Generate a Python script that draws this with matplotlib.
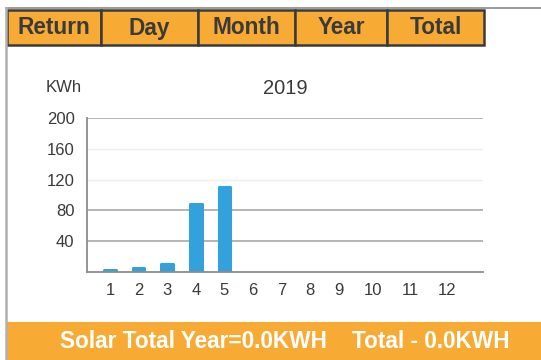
import matplotlib
matplotlib.use("Agg")
import matplotlib.pyplot as plt
from matplotlib.patches import Rectangle

# monthly yield for 2019
months = ["1", "2", "3", "4", "5", "6", "7", "8", "9", "10", "11", "12"]
kwh = [2.5, 5, 10, 88, 110, 0, 0, 0, 0, 0, 0, 0]
y_ticks = [40, 80, 120, 160, 200]
tabs = ["Return", "Day", "Month", "Year", "Total"]
year = "2019"
footer = "Solar Total Year=0.0KWH    Total - 0.0KWH"

# slot positions along the month axis (last three slots sit wider apart)
slots = [1, 2, 3, 4, 5, 6, 7, 8, 9, 10.2, 11.5, 12.8]

ORANGE = "#F8AB34"
DARK = "#3a3a3a"
BLUE = "#33A2DC"

plt.rcParams['font.family'] = ['Liberation Sans', 'DejaVu Sans']

W, H = 541, 360
fig = plt.figure(figsize=(W / 100, H / 100), dpi=100)
fig.patch.set_facecolor("white")

# overlay in pixel units for the frame, tabs and footer
bg = fig.add_axes([0, 0, 1, 1])
bg.set_xlim(0, W)
bg.set_ylim(H, 0)
bg.axis("off")

bg.plot([6, W], [8, 8], color="#8a8a8a", lw=1.2)
bg.plot([6, 6], [8, H], color="#b0b0b0", lw=1.8)

edges = [7, 101, 198, 295, 387, 484]
for i, t in enumerate(tabs):
    x0, x1 = edges[i], edges[i + 1]
    bg.add_patch(Rectangle((x0, 10), x1 - x0, 35, facecolor=ORANGE,
                           edgecolor=DARK, lw=1.8))
    bg.text((x0 + x1) / 2, 28, t, ha="center", va="center",
            fontsize=16.3, fontweight="bold", color=DARK)

bg.add_patch(Rectangle((7, 322), W - 7, H - 322, facecolor=ORANGE,
                       edgecolor="none"))
bg.text(285, 342, footer, ha="center", va="center", fontsize=16.3,
        fontweight="bold", color="white")

bg.text(46, 88, "KWh", ha="left", va="center", fontsize=12, color=DARK)
bg.text(285, 88, year, ha="center", va="center", fontsize=14.5, color=DARK)

# chart
ax = fig.add_axes([87 / W, (H - 272) / H, 396 / W, 154 / H])
ax.set_facecolor("none")
ax.set_xlim(0.196, 14.04)
ax.set_ylim(0, 200)

for v in y_ticks:
    faint = v in (120, 160)
    ax.axhline(v, color="#eeeeee" if faint else "#a8a8a8",
               lw=1.0 if faint else 1.2, zorder=0)

lws = [2.2 if v > 0 else 0 for v in kwh]
ax.bar(slots, kwh, width=0.4, color=BLUE, edgecolor=BLUE, linewidth=lws,
       joinstyle="round", zorder=2)

ax.set_xticks(slots)
ax.set_xticklabels(months)
ax.set_yticks(y_ticks)
ax.tick_params(axis="both", length=0, labelsize=12, labelcolor=DARK)
ax.tick_params(axis="x", pad=8)
ax.tick_params(axis="y", pad=9)

for s in ("top", "right"):
    ax.spines[s].set_visible(False)
for s in ("left", "bottom"):
    ax.spines[s].set_color("#8c8c8c")
    ax.spines[s].set_linewidth(1.3)

fig.savefig("out.png", dpi=100)
